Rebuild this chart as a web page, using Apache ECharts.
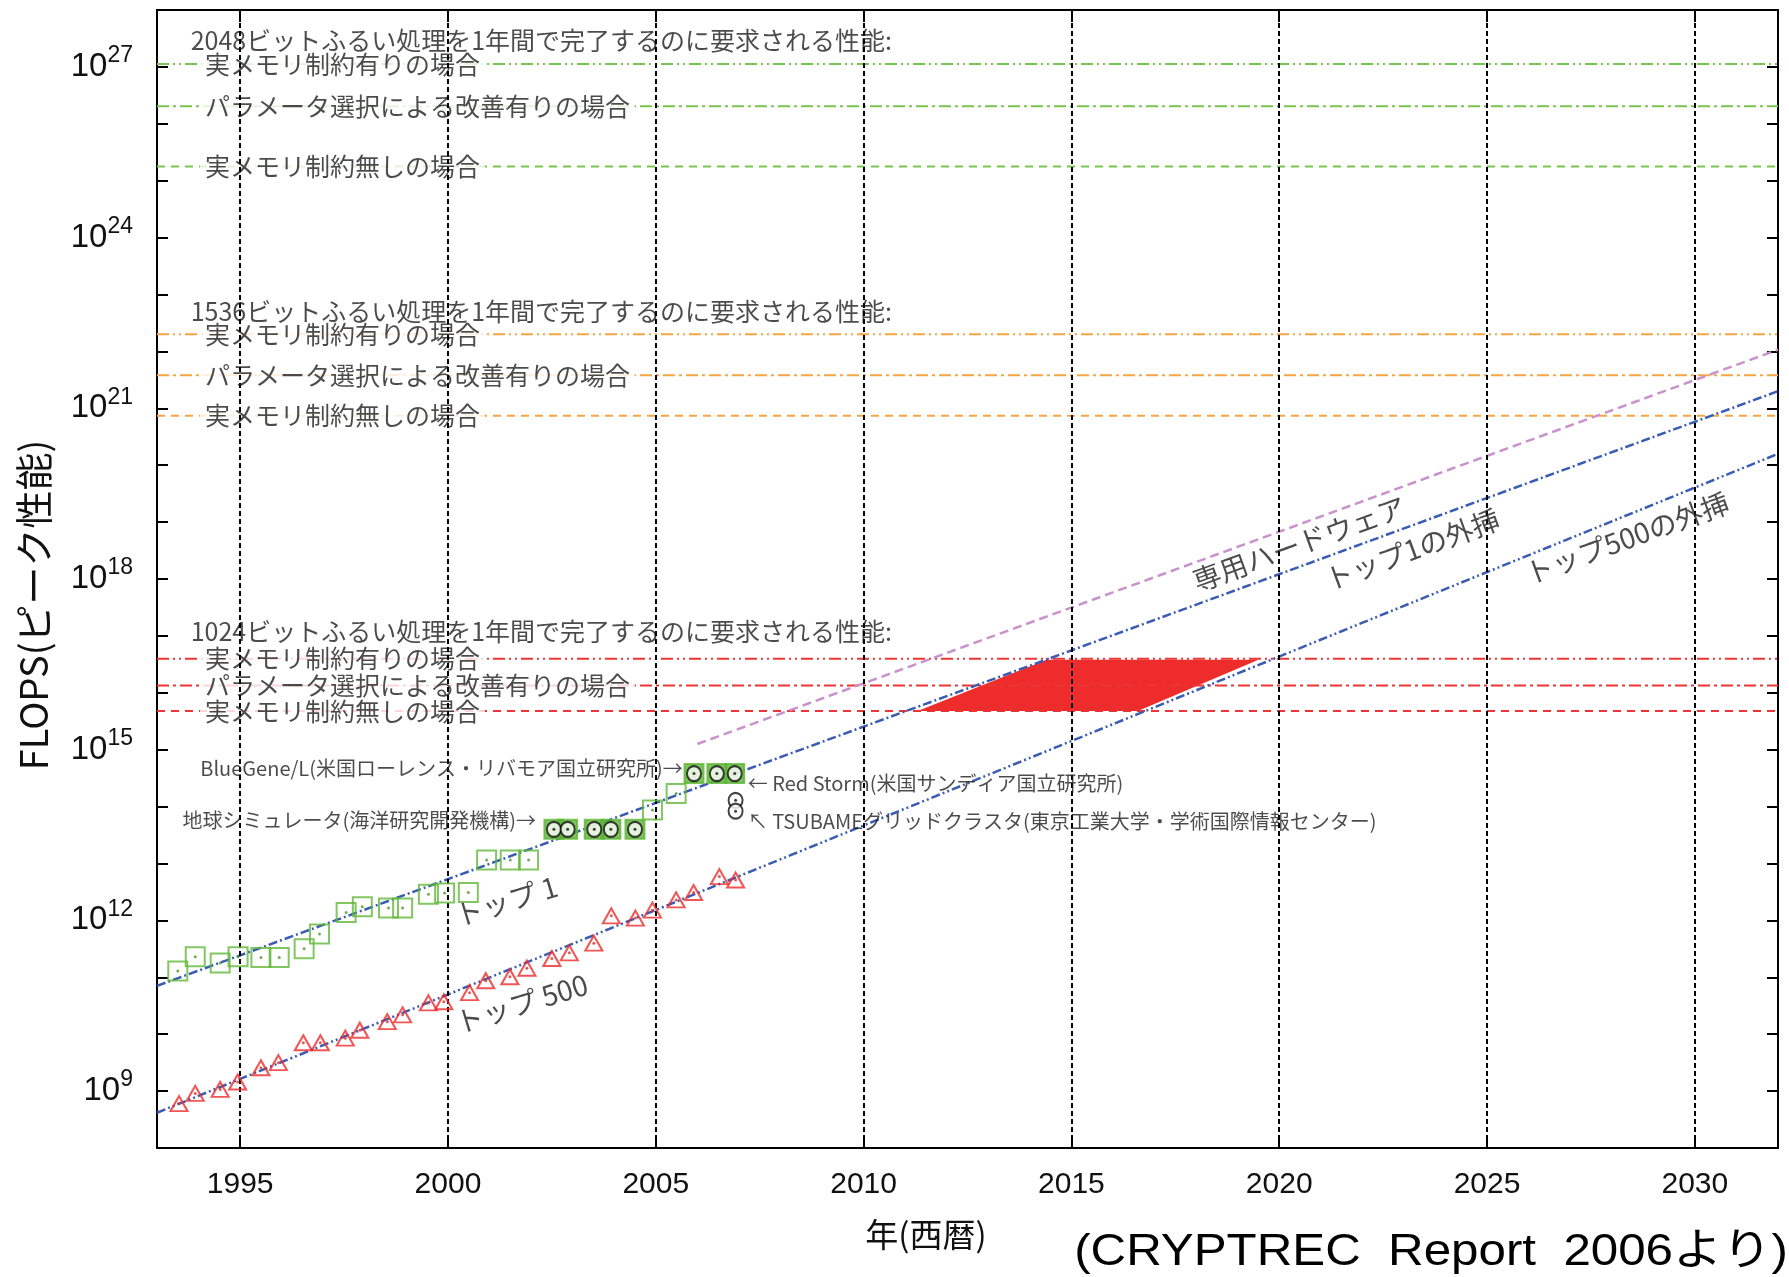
<!DOCTYPE html>
<html><head><meta charset="utf-8">
<script src="https://cdn.jsdelivr.net/npm/echarts@6/dist/echarts.min.js"></script>
<style>html,body{margin:0;padding:0;background:#fff}#c{width:1789px;height:1277px}</style>
</head><body><div id="c"></div>
<script>
// ---------------- data ----------------
const xTicks = [1995, 2000, 2005, 2010, 2015, 2020, 2025, 2030];

// TOP500 #1 (peak FLOPS, log10)
const top1Years = [1993.50,1993.92,1994.52,1994.95,1995.50,1995.94,1996.54,1996.91,1997.55,1997.94,1998.57,1998.91,1999.53,1999.92,2000.49,2000.93,2001.50,2001.94,2002.55,2002.88,2003.52,2003.92,2004.50,2004.92,2005.49,2005.92,2006.47,2006.90];
const top1Exp   = [11.11,11.36,11.25,11.36,11.35,11.35,11.50,11.76,12.14,12.24,12.22,12.22,12.46,12.48,12.49,13.06,13.06,13.06,13.60,13.60,13.60,13.60,13.60,13.94,14.23,14.58,14.58,14.58];

// TOP500 #500 (peak FLOPS, log10)
const top500Years = [1993.53,1993.92,1994.52,1994.94,1995.50,1995.92,1996.52,1996.93,1997.53,1997.88,1998.54,1998.91,1999.53,1999.90,2000.52,2000.91,2001.49,2001.90,2002.50,2002.92,2003.51,2003.93,2004.51,2004.92,2005.49,2005.91,2006.53,2006.92];
const top500Exp   = [8.78,8.96,9.03,9.16,9.41,9.50,9.85,9.85,9.93,10.07,10.22,10.34,10.55,10.57,10.73,10.94,11.01,11.16,11.33,11.43,11.60,12.08,12.04,12.18,12.36,12.49,12.77,12.71];

// named machines
const earthSimYears = [2002.55,2002.88,2003.52,2003.92,2004.50];
const earthSimExp   = [13.60,13.60,13.60,13.60,13.60];
const blueGeneYears = [2005.92,2006.47,2006.90];
const blueGeneExp   = [14.58,14.58,14.58];
const otherMachYears = [2006.92,2006.92];   // Red Storm, TSUBAME
const otherMachExp   = [14.11,13.92];

// extrapolation lines
const top1ExtYears = [1993, 2032];
const top1ExtExp   = [10.85, 21.30];
const top500ExtYears = [1993, 2032];
const top500ExtExp   = [8.62, 20.20];
const hwYears = [2006.0, 2032];
const hwExp   = [15.10, 22.03];

// required performance levels (log10 FLOPS): [with memory limit, parameter choice, no memory limit]
const level2048 = [27.05, 26.31, 25.25];
const level1536 = [22.30, 21.58, 20.87];
const level1024 = [16.60, 16.13, 15.68];

// 1024-bit feasible region (polygon corners)
const regionYears = [2011.3, 2014.4, 2019.5, 2016.6];
const regionExp   = [15.68, 16.58, 16.58, 15.68];

const caseLabels = ['実メモリ制約有りの場合', 'パラメータ選択による改善有りの場合', '実メモリ制約無しの場合'];
const headerLabels = [
  '2048ビットふるい処理を1年間で完了するのに要求される性能:',
  '1536ビットふるい処理を1年間で完了するのに要求される性能:',
  '1024ビットふるい処理を1年間で完了するのに要求される性能:'
];

// ---------------- rendering ----------------
const P = e => Math.pow(10, e);
const pts = (xs, es) => xs.map((x, i) => [x, P(es[i])]);
const JP = "'Noto Sans CJK JP', 'Noto Sans', sans-serif";
const NUM = "'Liberation Sans', Arial, sans-serif";

const series = [];

// vertical grid lines
series.push({
  type: 'line', data: [], z: 1, silent: true,
  markLine: {
    silent: true, symbol: ['none', 'none'], label: {show: false},
    lineStyle: {color: '#000', type: [5, 3], width: 2},
    data: xTicks.map(x => ({xAxis: x}))
  }
});

// horizontal requirement lines
const dashTypes = [[12, 4, 2, 4, 2, 4], [12, 4, 3, 4], [8, 6]];
const groups = [
  {lv: level2048, color: '#78c64f'},
  {lv: level1536, color: '#f7a443'},
  {lv: level1024, color: '#ee3535'}
];
groups.forEach(g => {
  g.lv.forEach((e, i) => {
    series.push({
      type: 'line', z: 2, silent: true, showSymbol: false, symbol: 'none',
      data: [[1993, P(e)], [2032, P(e)]],
      lineStyle: {color: g.color, width: 2, type: dashTypes[i]}
    });
  });
});

// 1024-bit region polygon
series.push({
  type: 'custom', z: 2, silent: true,
  data: pts(regionYears, regionExp),
  renderItem: (params, api) => {
    if (params.dataIndex !== 0) return null;
    const poly = regionYears.map((x, i) => api.coord([x, P(regionExp[i])]));
    return {type: 'polygon', shape: {points: poly}, style: {fill: '#ee2c2c'}};
  }
});

// extrapolation lines
series.push({type: 'line', z: 3, silent: true, symbol: 'none', data: pts(top1ExtYears, top1ExtExp),
  lineStyle: {color: '#3a5cb2', width: 2.5, type: [9, 3, 2, 3]}});
series.push({type: 'line', z: 3, silent: true, symbol: 'none', data: pts(top500ExtYears, top500ExtExp),
  lineStyle: {color: '#3a5cb2', width: 2.5, type: [9, 3, 2, 3, 2, 3]}});
series.push({type: 'line', z: 3, silent: true, symbol: 'none', data: pts(hwYears, hwExp),
  lineStyle: {color: '#c992cc', width: 2.5, type: [9, 5]}});

// markers
series.push({type: 'scatter', z: 5, silent: true, symbol: 'rect', symbolSize: 19, data: pts(top1Years, top1Exp),
  itemStyle: {color: 'rgba(0,0,0,0)', borderColor: '#62b83a', borderWidth: 2}});
series.push({type: 'scatter', z: 5, silent: true, symbol: 'circle', symbolSize: 3, data: pts(top1Years, top1Exp),
  itemStyle: {color: '#4a9a2a'}});
series.push({type: 'scatter', z: 5, silent: true, symbol: 'triangle', symbolSize: [17, 15], data: pts(top500Years, top500Exp),
  itemStyle: {color: 'rgba(0,0,0,0)', borderColor: '#ee2a2a', borderWidth: 2}});
series.push({type: 'scatter', z: 5, silent: true, symbol: 'circle', symbolSize: 3, data: pts(top500Years, top500Exp),
  itemStyle: {color: '#e03030'}});
const named = pts(earthSimYears, earthSimExp).concat(pts(blueGeneYears, blueGeneExp));
series.push({type: 'scatter', z: 6, silent: true, symbol: 'rect', symbolSize: 19, data: named,
  itemStyle: {color: '#5cb334'}});
const circ = named.concat(pts(otherMachYears, otherMachExp));
series.push({type: 'scatter', z: 7, silent: true, symbol: 'circle', symbolSize: [14, 15], data: circ,
  itemStyle: {color: '#fff', borderColor: '#111', borderWidth: 2}});
series.push({type: 'scatter', z: 7, silent: true, symbol: 'circle', symbolSize: 3, data: circ,
  itemStyle: {color: '#111'}});

// text labels placed in data coordinates
function textAt(x, e, text, o) {
  series.push({
    type: 'scatter', z: o.z || 8, silent: true, symbolSize: 1,
    itemStyle: {color: 'rgba(0,0,0,0)'},
    data: [[x, P(e)]],
    label: {
      show: true, formatter: text, position: o.position || 'right', distance: o.distance || 0,
      rotate: o.rotate || 0, fontSize: o.fontSize || 25, fontFamily: JP, color: '#1e1e1e',
      lineHeight: o.lineHeight, backgroundColor: o.bg || 'transparent', padding: o.padding || 0
    }
  });
}
const headerExp = [27.46, 22.70, 17.08];
groups.forEach((g, gi) => {
  g.lv.forEach((e, i) => {
    textAt(1994.02, e, caseLabels[i], {fontSize: 25, lineHeight: 24, bg: '#fff', padding: [0, 5, 0, 5], z: 4});
  });
  textAt(1993.75, headerExp[gi], headerLabels[gi], {fontSize: 25, lineHeight: 22, bg: '#fff', padding: [0, 4, 0, 2], z: 4.5});
});

textAt(2005.66, 14.68, 'BlueGene/L(米国ローレンス・リバモア国立研究所)→', {position: 'left', fontSize: 20});
textAt(2002.13, 13.76, '地球シミュレータ(海洋研究開発機構)→', {position: 'left', fontSize: 20});
textAt(2007.2, 14.40, '← Red Storm(米国サンディア国立研究所)', {fontSize: 20});
textAt(2007.2, 13.74, '↖ TSUBAMEグリッドクラスタ(東京工業大学・学術国際情報センター)', {fontSize: 20});

textAt(2020.48, 18.62, '専用ハードウェア', {position: 'inside', rotate: 20, fontSize: 28});
textAt(2023.20, 18.52, 'トップ1の外挿', {position: 'inside', rotate: 20, fontSize: 28});
textAt(2028.37, 18.72, 'トップ500の外挿', {position: 'inside', rotate: 20, fontSize: 28});
textAt(2001.40, 12.34, 'トップ 1', {position: 'inside', rotate: 17, fontSize: 28});
textAt(2001.77, 10.54, 'トップ 500', {position: 'inside', rotate: 17, fontSize: 28});

const yFmt = v => {
  const e = Math.round(Math.log10(v));
  return e % 3 === 0 ? '{b|10}{s|' + e + '}' : '';
};
const axisLineStyle = {color: '#000', width: 2};

const option = {
  animation: false,
  backgroundColor: '#fff',
  grid: {left: 157, top: 10, width: 1621, height: 1138, containLabel: false},
  xAxis: [
    {type: 'value', min: 1993, max: 2032, position: 'bottom',
      axisLine: {show: true, lineStyle: axisLineStyle},
      axisTick: {show: true, inside: true, length: 12, customValues: xTicks, lineStyle: axisLineStyle},
      axisLabel: {show: true, customValues: xTicks, formatter: v => String(v), fontSize: 30, fontFamily: NUM, color: '#111', margin: 22},
      splitLine: {show: false}},
    {type: 'value', min: 1993, max: 2032, position: 'top',
      axisLine: {show: true, lineStyle: axisLineStyle},
      axisTick: {show: true, inside: true, length: 12, customValues: xTicks, lineStyle: axisLineStyle},
      axisLabel: {show: false},
      splitLine: {show: false}}
  ],
  yAxis: [
    {type: 'log', logBase: 10, min: 1e8, max: 1e28, interval: 1, position: 'left',
      axisLine: {show: true, lineStyle: axisLineStyle},
      axisTick: {show: true, inside: true, length: 11, lineStyle: axisLineStyle},
      axisLabel: {show: true, margin: 24, formatter: yFmt,
        rich: {b: {fontSize: 33, fontFamily: NUM, color: '#111'},
               s: {fontSize: 23, fontFamily: NUM, color: '#111', padding: [0, 0, 22, 0]}}},
      minorTick: {show: false},
      splitLine: {show: false}},
    {type: 'log', logBase: 10, min: 1e8, max: 1e28, interval: 1, position: 'right',
      axisLine: {show: true, lineStyle: axisLineStyle},
      axisTick: {show: true, inside: true, length: 11, lineStyle: axisLineStyle},
      axisLabel: {show: false},
      splitLine: {show: false}}
  ],
  graphic: [
    {type: 'text', x: 34, y: 605, rotation: Math.PI / 2,
      style: {text: 'FLOPS(ピーク性能)', fontSize: 38, fontFamily: JP, fill: '#111', textAlign: 'center', textVerticalAlign: 'middle'}},
    {type: 'text', x: 926, y: 1234,
      style: {text: '年(西暦)', fontSize: 33, fontFamily: JP, fill: '#111', textAlign: 'center', textVerticalAlign: 'middle'}},
    {type: 'text', x: 1788, y: 1253, scaleX: 1.12,
      style: {text: '(CRYPTREC  Report  2006より)', fontSize: 44, fontFamily: NUM + ", 'Noto Sans CJK JP'", fill: '#000', textAlign: 'right', textVerticalAlign: 'middle'}}
  ],
  series: series
};

const chart = echarts.init(document.getElementById('c'), null, {renderer: 'canvas'});
chart.setOption(option);
</script>
</body></html>
